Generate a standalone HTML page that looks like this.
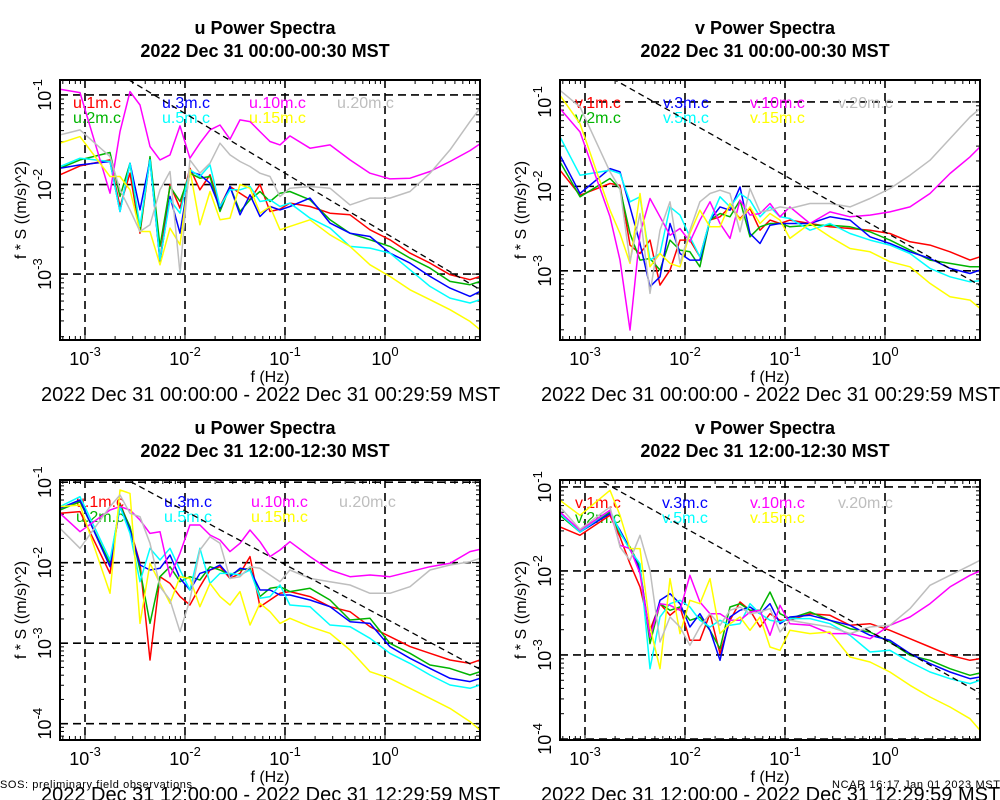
<!DOCTYPE html>
<html><head><meta charset="utf-8"><style>
html,body{margin:0;padding:0;background:#fff;}
svg{display:block;font-family:"Liberation Sans",sans-serif;}
</style></head><body>
<svg id="chart" width="1000" height="800" viewBox="0 0 1000 800" xmlns="http://www.w3.org/2000/svg">
<rect width="1000" height="800" fill="#fff"/>
<text x="0" y="788" font-size="11" textLength="192">SOS: preliminary field observations</text>
<text x="832" y="788" font-size="11" textLength="168">NCAR 16:17 Jan 01 2023 MST</text>
</svg>
<script>
const freqHz=[0.000562,0.000891,0.00178,0.00224,0.00282,0.00355,0.00447,0.00562,0.00708,0.00891,0.0112,0.0141,0.0178,0.0224,0.0282,0.0355,0.0447,0.0562,0.0708,0.0891,0.112,0.178,0.282,0.447,0.708,1.12,1.78,2.82,4.47,7.08,8.91];
const seriesNames=['1m','2m','3m','5m','10m','15m','20m'];
const seriesColors=['#ff0000','#00b400','#0000ff','#00ffff','#ff00ff','#ffff00','#bebebe'];
const refLineIntercepts=[-2.54,-2.54,-2.69,-2.82];
// top-left u 00:00 (log10 of f*S)
const uAm1m=[-1.892,-1.792,-1.725,-2.245,-1.874,-2.543,-1.706,-2.84,-2.0,-2.264,-1.818,-2.059,-1.892,-2.245,-2.022,-2.097,-2.171,-2.0,-2.301,-2.275,-2.208,-2.245,-2.32,-2.338,-2.506,-2.617,-2.766,-2.877,-3.007,-3.063,-3.026];
const uAm2m=[-1.818,-1.725,-1.643,-2.134,-1.762,-2.524,-1.688,-2.691,-2.022,-2.19,-1.874,-1.929,-1.911,-2.301,-2.022,-2.301,-2.171,-2.078,-2.19,-2.097,-2.078,-2.171,-2.394,-2.543,-2.617,-2.691,-2.822,-2.933,-3.082,-3.119,-3.082];
const uAm3m=[-1.818,-1.781,-1.743,-2.301,-1.762,-2.283,-1.725,-2.859,-2.134,-2.543,-1.855,-1.892,-1.985,-2.264,-2.022,-2.338,-2.115,-2.357,-2.245,-2.283,-2.245,-2.152,-2.431,-2.543,-2.58,-2.766,-2.877,-3.026,-3.156,-3.249,-3.193];
const uAm5m=[-1.799,-1.706,-1.743,-2.301,-1.762,-2.468,-1.725,-2.84,-2.171,-2.32,-1.836,-1.911,-1.781,-2.245,-2.059,-2.059,-2.022,-2.19,-2.171,-2.245,-2.208,-2.375,-2.487,-2.691,-2.71,-2.766,-2.952,-3.138,-3.268,-3.323,-3.286];
const uAm10m=[-0.937,-0.974,-2.097,-1.409,-0.963,-1.112,-1.576,-1.725,-1.669,-1.346,-1.706,-1.539,-1.39,-1.335,-1.494,-1.279,-1.297,-1.409,-1.52,-1.558,-1.457,-1.595,-1.558,-1.725,-1.874,-1.937,-1.929,-1.855,-1.743,-1.621,-1.546];
const uAm15m=[-1.539,-1.465,-1.911,-1.911,-2.059,-2.524,-2.524,-2.896,-2.487,-2.673,-1.836,-2.45,-2.078,-2.394,-2.375,-2.0,-2.041,-2.32,-2.245,-2.506,-2.468,-2.394,-2.561,-2.691,-2.896,-3.026,-3.175,-3.286,-3.398,-3.528,-3.621];
const uAm20m=[-1.446,-1.39,-1.688,-2.059,-2.283,-2.524,-2.45,-2.059,-1.855,-2.989,-1.725,-1.874,-1.762,-1.539,-1.669,-1.743,-1.799,-1.874,-1.911,-2.134,-2.041,-2.022,-2.041,-2.227,-2.152,-2.152,-2.078,-1.874,-1.613,-1.297,-1.149];
// top-right v 00:00
const vAm1m=[-1.809,-2.105,-1.966,-1.986,-2.696,-2.795,-2.637,-3.17,-2.992,-2.637,-2.637,-2.834,-2.4,-2.361,-2.243,-2.381,-2.262,-2.519,-2.4,-2.44,-2.4,-2.44,-2.479,-2.499,-2.519,-2.558,-2.657,-2.696,-2.775,-2.874,-2.834];
const vAm2m=[-1.71,-2.124,-1.907,-2.026,-2.558,-2.874,-2.854,-2.992,-2.637,-2.755,-2.775,-2.953,-2.4,-2.322,-2.361,-2.164,-2.598,-2.479,-2.44,-2.44,-2.479,-2.46,-2.46,-2.479,-2.538,-2.637,-2.755,-2.874,-2.913,-2.953,-2.953];
const vAm3m=[-1.631,-2.085,-1.789,-1.828,-2.243,-2.677,-3.189,-3.071,-2.44,-2.795,-2.874,-2.874,-2.4,-2.243,-2.282,-2.006,-2.558,-2.677,-2.46,-2.44,-2.44,-2.44,-2.361,-2.4,-2.598,-2.677,-2.775,-2.854,-2.972,-3.032,-2.992];
const vAm5m=[-1.414,-1.868,-1.809,-1.848,-2.183,-2.124,-2.874,-2.795,-2.243,-2.341,-2.598,-2.834,-2.4,-2.124,-2.243,-2.085,-2.164,-2.361,-2.243,-2.361,-2.381,-2.519,-2.44,-2.558,-2.637,-2.696,-2.795,-2.972,-3.071,-3.13,-3.118];
const vAm10m=[-1.079,-1.355,-2.361,-2.874,-3.702,-2.558,-2.144,-2.361,-2.578,-2.499,-2.657,-2.4,-2.183,-2.44,-2.617,-2.164,-2.341,-2.322,-2.203,-2.361,-2.243,-2.44,-2.302,-2.361,-2.341,-2.302,-2.243,-2.085,-1.848,-1.651,-1.533];
const vAm15m=[-0.921,-1.256,-2.282,-2.558,-2.913,-2.085,-2.953,-2.795,-2.913,-2.953,-2.558,-2.282,-2.479,-2.479,-2.203,-2.4,-2.243,-2.44,-2.322,-2.4,-2.617,-2.44,-2.598,-2.736,-2.775,-2.893,-2.953,-3.15,-3.308,-3.347,-3.446];
const vAm20m=[-0.862,-1.059,-1.828,-2.026,-2.893,-2.322,-3.268,-2.519,-2.183,-2.913,-2.519,-2.183,-2.085,-2.045,-2.085,-2.538,-2.026,-2.302,-2.282,-2.243,-2.262,-2.203,-2.203,-2.243,-2.144,-2.026,-1.868,-1.69,-1.434,-1.178,-1.079];
// bottom-left u 12:00
const uPm1m=[-1.387,-1.366,-2.133,-1.263,-1.573,-2.008,-3.209,-2.174,-2.257,-2.422,-2.526,-2.298,-2.091,-2.05,-2.195,-2.133,-1.925,-2.547,-2.464,-2.381,-2.36,-2.422,-2.547,-2.609,-2.795,-2.919,-3.043,-3.126,-3.209,-3.251,-3.209];
const uPm2m=[-1.346,-1.242,-2.008,-1.284,-1.553,-2.091,-2.754,-2.174,-2.05,-2.236,-2.174,-2.215,-2.05,-2.091,-2.153,-2.091,-2.07,-2.422,-2.319,-2.298,-2.36,-2.319,-2.464,-2.712,-2.691,-3.002,-3.126,-3.271,-3.313,-3.395,-3.354];
const uPm3m=[-1.325,-1.222,-2.05,-1.304,-1.594,-2.029,-2.091,-2.07,-1.905,-2.195,-2.34,-2.133,-2.091,-2.029,-2.174,-2.07,-2.091,-2.34,-2.34,-2.402,-2.402,-2.464,-2.547,-2.733,-2.754,-3.043,-3.188,-3.313,-3.437,-3.478,-3.437];
const uPm5m=[-1.304,-1.18,-1.967,-1.304,-1.636,-2.236,-1.822,-1.967,-1.822,-2.091,-2.34,-1.822,-2.257,-2.133,-2.133,-2.153,-2.091,-2.443,-2.422,-2.277,-2.526,-2.547,-2.774,-2.795,-2.94,-3.126,-3.251,-3.395,-3.52,-3.561,-3.52];
const uPm10m=[-1.387,-1.615,-1.346,-1.304,-1.346,-1.47,-1.636,-1.615,-2.174,-1.884,-1.532,-1.532,-1.656,-1.718,-1.863,-1.76,-1.594,-1.739,-1.925,-1.842,-1.739,-1.925,-2.091,-2.174,-2.153,-2.174,-2.112,-2.05,-2.008,-1.863,-1.834];
const uPm15m=[-1.304,-1.284,-2.381,-1.097,-1.139,-2.754,-2.008,-2.257,-2.505,-2.174,-2.195,-2.547,-2.257,-2.422,-2.526,-2.36,-2.774,-2.505,-2.609,-2.754,-2.691,-2.795,-2.878,-3.085,-3.354,-3.437,-3.561,-3.685,-3.81,-3.975,-4.079];
const uPm20m=[-1.573,-1.822,-1.304,-1.159,-1.387,-1.429,-1.76,-2.298,-2.464,-2.857,-2.464,-1.843,-1.677,-1.76,-2.195,-2.174,-2.05,-2.07,-2.153,-2.236,-2.091,-2.195,-2.236,-2.277,-2.381,-2.381,-2.298,-2.091,-2.029,-1.988,-1.946];
// bottom-right v 12:00
const vPm1m=[-1.476,-1.575,-1.337,-1.595,-1.913,-2.19,-2.706,-2.389,-2.528,-2.429,-2.825,-2.825,-2.508,-2.984,-2.587,-2.369,-2.468,-2.667,-2.508,-2.587,-2.587,-2.508,-2.528,-2.647,-2.627,-2.706,-2.806,-2.905,-3.004,-3.063,-3.044];
const vPm2m=[-1.337,-1.536,-1.298,-1.556,-1.714,-1.952,-2.865,-2.389,-2.468,-2.429,-2.587,-2.548,-2.706,-2.925,-2.429,-2.389,-2.468,-2.468,-2.25,-2.508,-2.567,-2.488,-2.587,-2.687,-2.726,-2.845,-3.004,-3.063,-3.163,-3.242,-3.214];
const vPm3m=[-1.298,-1.536,-1.317,-1.516,-1.734,-1.992,-2.786,-2.349,-2.27,-2.389,-2.667,-2.508,-2.706,-3.063,-2.548,-2.468,-2.429,-2.508,-2.389,-2.627,-2.548,-2.528,-2.587,-2.647,-2.766,-2.825,-2.984,-3.103,-3.202,-3.282,-3.262];
const vPm5m=[-1.317,-1.536,-1.278,-1.536,-1.754,-1.913,-3.163,-2.548,-2.389,-2.349,-2.429,-2.587,-2.667,-2.587,-2.647,-2.627,-2.389,-2.508,-2.587,-2.607,-2.567,-2.567,-2.627,-2.766,-2.964,-2.944,-3.083,-3.202,-3.282,-3.341,-3.302];
const vPm10m=[-1.298,-1.516,-1.278,-1.694,-1.734,-2.032,-2.786,-2.389,-2.409,-2.468,-2.052,-2.369,-2.508,-2.508,-2.587,-2.587,-2.488,-2.468,-2.766,-2.409,-2.627,-2.647,-2.746,-2.746,-2.806,-2.647,-2.548,-2.389,-2.19,-2.052,-2.0];
const vPm15m=[-1.159,-1.337,-1.04,-1.337,-1.734,-1.734,-2.667,-3.163,-2.091,-2.746,-2.349,-2.389,-2.091,-2.746,-2.627,-2.548,-2.706,-2.548,-2.905,-2.944,-2.706,-2.746,-2.726,-3.024,-3.083,-3.202,-3.361,-3.5,-3.619,-3.758,-3.897];
const vPm20m=[-1.238,-1.504,-1.238,-1.714,-1.873,-1.575,-1.992,-2.845,-2.548,-2.667,-2.885,-2.667,-2.508,-2.647,-2.468,-2.429,-2.508,-2.488,-2.448,-2.726,-2.587,-2.627,-2.667,-2.746,-2.667,-2.647,-2.448,-2.171,-2.052,-1.933,-1.873];

const NS='http://www.w3.org/2000/svg';
const svg=document.getElementById('chart');
function mk(tag,attrs,parent){const e=document.createElementNS(NS,tag);for(const k in attrs)e.setAttribute(k,attrs[k]);(parent||svg).appendChild(e);return e;}

const panels=[
 {key:'u-am',comp:'u',time:'00:00-00:30',range:'00:00:00 - 2022 Dec 31 00:29:59',x0:60,y0:80,ymin:-3.736,ymax:-0.833,data:[uAm1m,uAm2m,uAm3m,uAm5m,uAm10m,uAm15m,uAm20m],ref:0,leg:[73,162,249,337],legY:108},
 {key:'v-am',comp:'v',time:'00:00-00:30',range:'00:00:00 - 2022 Dec 31 00:29:59',x0:560,y0:80,ymin:-3.82,ymax:-0.74,data:[vAm1m,vAm2m,vAm3m,vAm5m,vAm10m,vAm15m,vAm20m],ref:1,leg:[575,663,750,838],legY:108},
 {key:'u-pm',comp:'u',time:'12:00-12:30',range:'12:00:00 - 2022 Dec 31 12:29:59',x0:60,y0:480,ymin:-4.203,ymax:-0.973,data:[uPm1m,uPm2m,uPm3m,uPm5m,uPm10m,uPm15m,uPm20m],ref:2,leg:[76,164,251,339],legY:507},
 {key:'v-pm',comp:'v',time:'12:00-12:30',range:'12:00:00 - 2022 Dec 31 12:29:59',x0:560,y0:480,ymin:-4.012,ymax:-0.917,data:[vPm1m,vPm2m,vPm3m,vPm5m,vPm10m,vPm15m,vPm20m],ref:3,leg:[575,662,750,838],legY:508}
];
const W=420,H=260,XMIN=-3.25,XMAX=0.95;
// legend slot: [col,row] per series index
const legSlots=[[0,0],[0,1],[1,0],[1,1],[2,0],[2,1],[3,0]];

panels.forEach((p,pi)=>{
 const xs=lf=>p.x0+(lf-XMIN)/(XMAX-XMIN)*W;
 const ys=lv=>p.y0+(p.ymax-lv)/(p.ymax-p.ymin)*H;
 const g=mk('g',{});
 
 
 const cx=p.x0+W/2-5;
 const t1=mk('text',{x:cx,y:p.y0-46,'text-anchor':'middle','font-size':18,'font-weight':'bold'},g);
 t1.textContent=p.comp+' Power Spectra';
 
 
 const t2=mk('text',{x:cx,y:p.y0-23,'text-anchor':'middle','font-size':18,'font-weight':'bold'},g);
 t2.textContent='2022 Dec 31 '+p.time+' MST';
 
 
 const cid='clip'+pi;
 const cp=mk('clipPath',{id:cid},g);mk('rect',{x:p.x0,y:p.y0,width:W,height:H},cp);
 // minor ticks
 const ticks=mk('g',{stroke:'#000','stroke-width':1},g);
 
 
 for(let d=-4;d<=1;d++)for(let m=1;m<10;m++){
  const lf=d+Math.log10(m);
  if(lf>XMIN&&lf<XMAX){const x=xs(lf),L=m==1?8:4;mk('line',{x1:x,y1:p.y0+H,x2:x,y2:p.y0+H-L},ticks);mk('line',{x1:x,y1:p.y0,x2:x,y2:p.y0+L},ticks);}
 }
 for(let d=-5;d<=0;d++)for(let m=1;m<10;m++){
  const lv=d+Math.log10(m);
  if(lv>p.ymin&&lv<p.ymax){const y=ys(lv),L=m==1?8:4;mk('line',{x1:p.x0,y1:y,x2:p.x0+L,y2:y},ticks);mk('line',{x1:p.x0+W,y1:y,x2:p.x0+W-L,y2:y},ticks);}
 }
 // grid
 const grid=mk('g',{stroke:'#000','stroke-width':1.6,'stroke-dasharray':'8,5',fill:'none'},g);
 
 
 for(let d=-3;d<=0;d++){const x=xs(d);mk('line',{x1:x,y1:p.y0,x2:x,y2:p.y0+H},grid);
  const tl=mk('text',{x:x,y:p.y0+H+25,'text-anchor':'middle','font-size':18},g);
  
  
  const a=mk('tspan',{},tl);a.textContent='10';const b=mk('tspan',{dy:-9,'font-size':13},tl);b.textContent=String(d);}
 for(let d=-4;d<=-1;d++){if(d<p.ymin||d>p.ymax)continue;const y=ys(d);mk('line',{x1:p.x0,y1:y,x2:p.x0+W,y2:y},grid);
  const tx=p.x0-9;
  const tl=mk('text',{x:tx,y:y,'text-anchor':'middle','font-size':18,transform:'rotate(-90 '+tx+' '+y+')'},g);
  
  
  const a=mk('tspan',{},tl);a.textContent='10';const b=mk('tspan',{dy:-9,'font-size':13},tl);b.textContent=String(d);}
 // legend
 p.data.forEach((s,si)=>{
  const sl=legSlots[si];
  const lt=mk('text',{x:p.leg[sl[0]],y:p.legY+sl[1]*15,'font-size':16,fill:seriesColors[si]},g);
  lt.textContent=p.comp+'.'+seriesNames[si]+'.c';
  
  
 });
 // series
 const sg=mk('g',{'clip-path':'url(#'+cid+')',fill:'none','stroke-width':1.5,'stroke-linejoin':'round'},g);
 p.data.forEach((s,si)=>{
  const pts=s.map((v,i)=>xs(Math.log10(freqHz[i])).toFixed(1)+','+ys(v).toFixed(1)).join(' ');
  const pl=mk('polyline',{points:pts,stroke:seriesColors[si]},sg);
  
  
 });
 // -2/3 reference line
 const c=refLineIntercepts[p.ref];
 const rl=mk('line',{x1:xs(XMIN),y1:ys(c-2/3*XMIN),x2:xs(XMAX),y2:ys(c-2/3*XMAX),stroke:'#000','stroke-width':1.3,'stroke-dasharray':'6,4'},sg);
 
 
 // frame
 const fr=mk('rect',{x:p.x0,y:p.y0,width:W,height:H,fill:'none',stroke:'#000','stroke-width':2},g);
 
 
 // axis titles
 const xt=mk('text',{x:p.x0+210,y:p.y0+H+42,'text-anchor':'middle','font-size':16},g);
 xt.textContent='f (Hz)';
 
 
 const yx=p.x0-34,yy=p.y0+130;
 const yt=mk('text',{x:yx,y:yy,'text-anchor':'middle','font-size':16,transform:'rotate(-90 '+yx+' '+yy+')'},g);
 yt.textContent='f * S ((m/s)^2)';
 
 
 const dt=mk('text',{x:p.x0-19,y:p.y0+H+61,'font-size':20},g);
 dt.textContent='2022 Dec 31 '+p.range+' MST';
 
 
});
</script>
</body></html>
